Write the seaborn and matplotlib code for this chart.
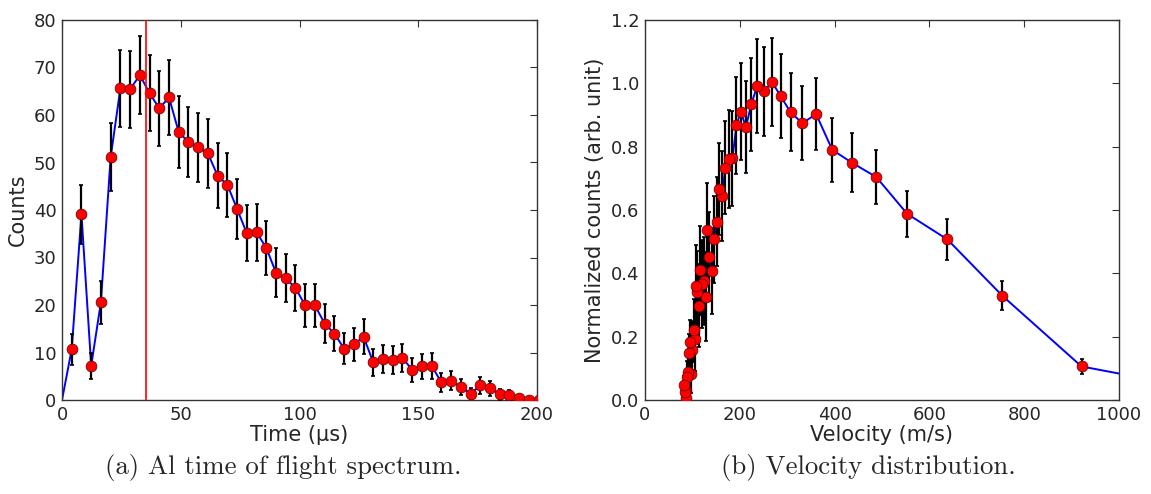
import numpy as np
import pandas as pd
import matplotlib
matplotlib.use("Agg")
import matplotlib.pyplot as plt
import seaborn as sns

# ---------------- data: left panel (time of flight) ----------------
tof_time = [0.0, 4.10, 8.19, 12.29, 16.38, 20.48, 24.58, 28.67, 32.77, 36.86, 40.96,
            45.06, 49.15, 53.25, 57.34, 61.44, 65.54, 69.63, 73.73, 77.82, 81.92,
            86.02, 90.11, 94.21, 98.30, 102.40, 106.50, 110.59, 114.69, 118.78, 122.88,
            126.98, 131.07, 135.17, 139.26, 143.36, 147.46, 151.55, 155.65, 159.74, 163.84,
            167.94, 172.03, 176.13, 180.22, 184.32, 188.42, 192.51, 196.61, 200.70]
tof_counts = [0.0, 10.7, 39.1, 7.2, 20.6, 51.1, 65.6, 65.4, 68.4, 64.6, 61.4,
              63.7, 56.4, 54.3, 53.2, 51.9, 47.2, 45.3, 40.2, 35.1, 35.3,
              32.0, 26.8, 25.6, 23.6, 19.9, 19.9, 16.1, 14.0, 10.8, 11.7,
              13.3, 7.9, 8.7, 8.4, 8.9, 6.3, 7.1, 7.2, 3.7, 4.1,
              2.8, 1.3, 3.1, 2.5, 1.2, 1.05, 0.4, 0.1, 0.0]
tof_err = [0.0, 3.27, 6.25, 2.68, 4.54, 7.15, 8.10, 8.09, 8.27, 8.04, 7.84,
           7.98, 7.51, 7.37, 7.29, 7.20, 6.87, 6.73, 6.34, 5.92, 5.94,
           5.66, 5.18, 5.06, 4.86, 4.46, 4.46, 4.01, 3.74, 3.29, 3.42,
           3.65, 2.81, 2.95, 2.90, 2.98, 2.51, 2.66, 2.68, 1.92, 2.02,
           1.67, 1.14, 1.76, 1.58, 1.10, 1.02, 0.63, 0.32, 0.0]
cut_time = 35.4

# ---------------- data: right panel (velocity distribution) ----------------
velocity = [1185, 921, 754, 638, 553, 488, 437, 395, 361, 332, 307, 286, 268, 251, 237,
            224, 213, 202, 193, 184.4, 176.6, 169.3, 162.7, 156.6, 150.9, 145.6, 140.6,
            136.0, 131.7, 127.7, 123.9, 120.3, 116.9, 113.7, 110.6, 107.8, 105.0, 102.4,
            100.0, 97.6, 95.4, 93.2, 91.2, 89.2, 87.4, 85.6, 83.8, 82.2]
norm_counts = [0.031, 0.106, 0.329, 0.507, 0.588, 0.704, 0.749, 0.790, 0.903, 0.874, 0.909,
               0.960, 1.004, 0.975, 0.992, 0.934, 0.861, 0.911, 0.868, 0.763, 0.761, 0.734,
               0.643, 0.667, 0.563, 0.507, 0.408, 0.453, 0.537, 0.326, 0.376, 0.366, 0.410,
               0.298, 0.342, 0.360, 0.192, 0.220, 0.158, 0.082, 0.182, 0.149, 0.090, 0.074,
               0.030, 0.005, 0.026, 0.046]
norm_err = [0.010, 0.023, 0.046, 0.064, 0.072, 0.085, 0.093, 0.101, 0.113, 0.117, 0.123,
            0.132, 0.140, 0.141, 0.148, 0.147, 0.145, 0.153, 0.153, 0.149, 0.155, 0.148,
            0.142, 0.145, 0.140, 0.138, 0.135, 0.140, 0.147, 0.140, 0.140, 0.140, 0.140,
            0.130, 0.130, 0.130, 0.100, 0.100, 0.090, 0.060, 0.070, 0.060, 0.050, 0.050,
            0.040, 0.030, 0.030, 0.030]

left_xticks = [0, 50, 100, 150, 200]
left_yticks = [0, 10, 20, 30, 40, 50, 60, 70, 80]
right_xticks = [0, 200, 400, 600, 800, 1000]
right_yticks = [0.0, 0.2, 0.4, 0.6, 0.8, 1.0, 1.2]

caption_a = "(a) Al time of flight spectrum."
caption_b = "(b) Velocity distribution."

# ---------------- styling ----------------
sns.set_style("white")
plt.rcParams['font.family'] = ['DejaVu Sans']

df_tof = pd.DataFrame({"t": tof_time, "c": tof_counts, "e": tof_err})
df_vel = pd.DataFrame({"v": velocity, "n": norm_counts, "e": norm_err})

fig = plt.figure(figsize=(11.51, 4.94), dpi=100)
ax1 = fig.add_axes([62 / 1151, 1 - 400 / 494, 475 / 1151, 380 / 494])
ax2 = fig.add_axes([645 / 1151, 1 - 400 / 494, 474 / 1151, 380 / 494])


def draw(ax, df, xcol, ycol, ecol, skip_first_marker):
    sns.lineplot(data=df, x=xcol, y=ycol, ax=ax, sort=False, estimator=None,
                 color="#0000ff", linewidth=1.4, zorder=2)
    d = df.iloc[1:] if skip_first_marker else df
    ax.errorbar(d[xcol], d[ycol], yerr=d[ecol], fmt="none", ecolor="black",
                elinewidth=1.6, capsize=1.3, capthick=1.2, zorder=3)
    ax.plot(d[xcol], d[ycol], linestyle="none", marker="o", markersize=7.8,
            markerfacecolor="#ff0000", markeredgecolor="#5a0000",
            markeredgewidth=0.5, zorder=4)


draw(ax1, df_tof, "t", "c", "e", True)
ax1.axvline(cut_time, color="#ff0000", linewidth=1.2, zorder=5)
draw(ax2, df_vel, "v", "n", "e", False)

ax1.set_xlim(0, 200)
ax1.set_ylim(0, 80)
ax1.set_xticks(left_xticks)
ax1.set_yticks(left_yticks)
ax1.set_xlabel("Time (µs)", fontsize=15, labelpad=1)
ax1.set_ylabel("Counts", fontsize=15, labelpad=4)

ax2.set_xlim(0, 1000)
ax2.set_ylim(0, 1.2)
ax2.set_xticks(right_xticks)
ax2.set_yticks(right_yticks)
ax2.set_yticklabels([f"{v:.1f}" for v in right_yticks])
ax2.set_xlabel("Velocity (m/s)", fontsize=15, labelpad=1)
ax2.set_ylabel("Normalized counts (arb. unit)", fontsize=15, labelpad=4)

for ax in (ax1, ax2):
    for s in ax.spines.values():
        s.set_visible(True)
        s.set_color("#333333")
        s.set_linewidth(1.0)
    ax.tick_params(direction="in", length=5, width=0.8, top=True, right=True,
                   labelsize=13, pad=4, color="#333333")

fig.text(283 / 1151, 1 - 467 / 494, caption_a, family="cmr10", fontsize=19.3,
         ha="center", va="center")
fig.text(868 / 1151, 1 - 467 / 494, caption_b, family="cmr10", fontsize=19.3,
         ha="center", va="center")

fig.savefig("out.png", dpi=100)
